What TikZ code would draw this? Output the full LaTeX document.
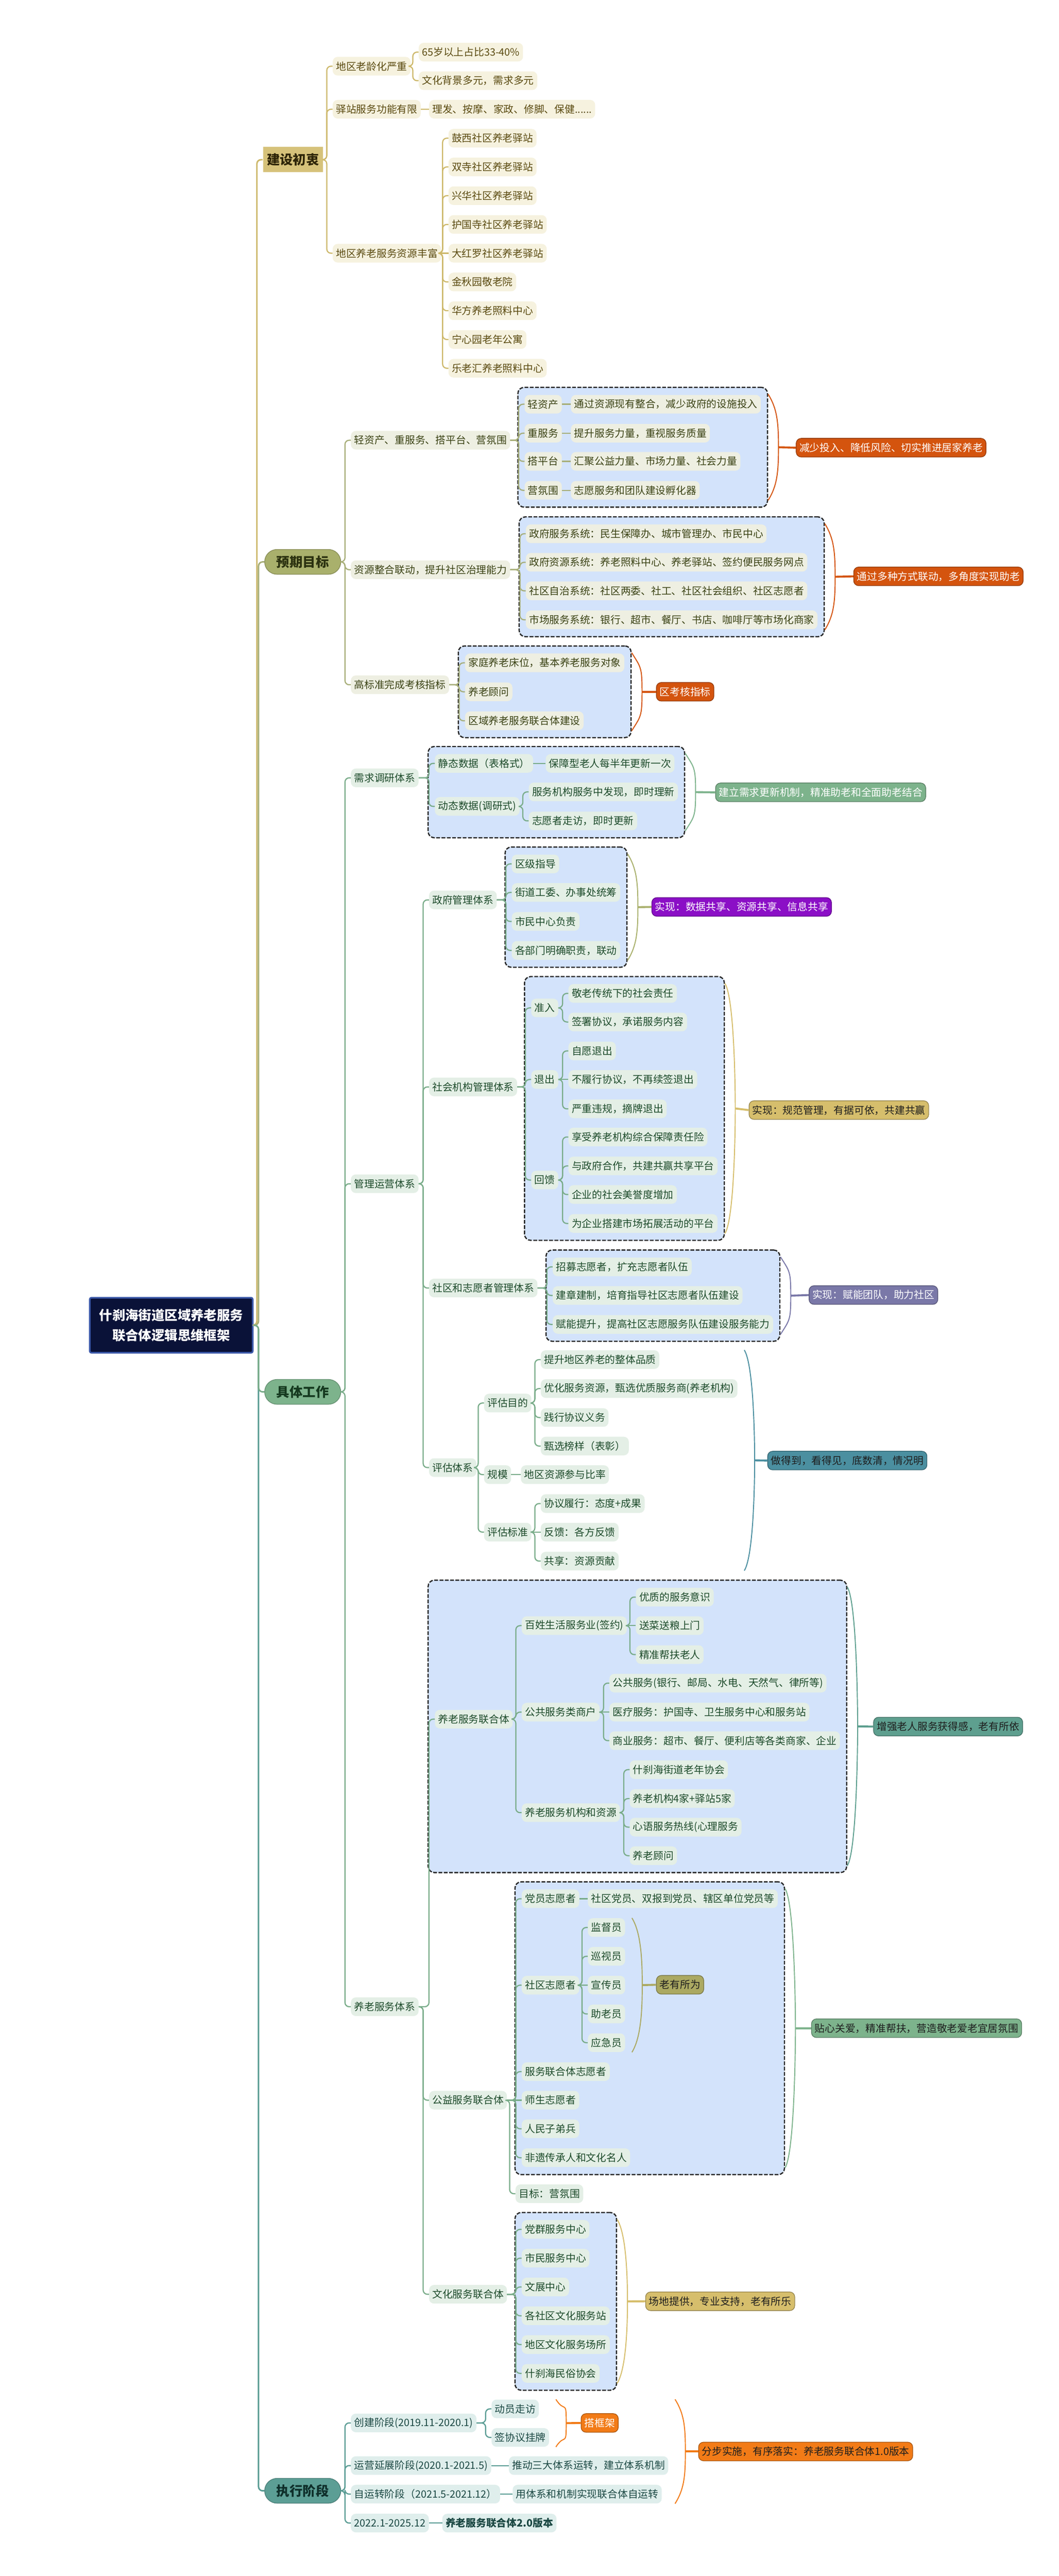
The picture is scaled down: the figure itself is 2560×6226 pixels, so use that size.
\documentclass[tikz,border=0pt]{standalone}
\usepackage{fontspec}
\setmainfont{Noto Sans CJK SC}
\usetikzlibrary{fit,backgrounds,calc}

\definecolor{cxmain}{HTML}{D6C27A}
\definecolor{cxbg}{HTML}{F6F2DF}
\definecolor{cxln}{HTML}{CDB86A}
\definecolor{cxtx}{HTML}{5A4A10}
\definecolor{cxdark}{HTML}{2E2508}
\definecolor{mbmain}{HTML}{A9B06C}
\definecolor{mbbg}{HTML}{EEEFE2}
\definecolor{mbln}{HTML}{A7AE78}
\definecolor{mbtx}{HTML}{3A4214}
\definecolor{mbdark}{HTML}{2C3210}
\definecolor{gzmain}{HTML}{7DB38C}
\definecolor{gzbg}{HTML}{E4EFE6}
\definecolor{gzln}{HTML}{79AC89}
\definecolor{gztx}{HTML}{1C4A2A}
\definecolor{gzdark}{HTML}{15391F}
\definecolor{jdmain}{HTML}{5C9E95}
\definecolor{jdbg}{HTML}{DFEEEC}
\definecolor{jdln}{HTML}{5A9C94}
\definecolor{jdtx}{HTML}{1B4843}
\definecolor{jddark}{HTML}{0F2F2B}
\definecolor{rootbg}{HTML}{0A1238}
\definecolor{rootln}{HTML}{3A57A8}
\definecolor{boxbg}{HTML}{D3E3FB}
\definecolor{orangeA}{HTML}{D4540E}
\definecolor{orangeB}{HTML}{F27B17}
\definecolor{purpleA}{HTML}{8B0FC6}
\definecolor{violetB}{HTML}{7A78A8}
\definecolor{tealA}{HTML}{4B8FA0}
\definecolor{tealB}{HTML}{5E9F8F}
\definecolor{goldB}{HTML}{D6BE6C}
\definecolor{oliveB}{HTML}{ABA962}
\definecolor{darktx}{HTML}{1E1E1E}

\tikzset{
  leaf/.style={anchor=west, rounded corners=3mm, minimum height=11.25mm,
    inner xsep=2mm, inner ysep=0pt, font=\fontsize{17.5}{21}\selectfont},
  cxleaf/.style={leaf, fill=cxbg, text=cxtx},
  mbleaf/.style={leaf, fill=mbbg, text=mbtx},
  gzleaf/.style={leaf, fill=gzbg, text=gztx},
  jdleaf/.style={leaf, fill=jdbg, text=jdtx},
  branch/.style={anchor=west, minimum width=46mm, minimum height=15mm,
    rounded corners=7.5mm, line width=0.4mm, font=\fontsize{22.5}{26}\selectfont\bfseries},
  root/.style={anchor=west, fill=rootbg, draw=rootln, line width=1mm, text=white,
    align=center, minimum width=98.5mm, minimum height=33.25mm, rounded corners=1mm,
    font=\fontsize{22.5}{34}\selectfont\bfseries},
  callout/.style={leaf, draw=#1!70!black, line width=0.4mm, fill=#1},
  sumbox/.style={draw=black!85, dash pattern=on 2.3mm off 0.9mm, line width=0.75mm,
    fill=boxbg, rounded corners=3.75mm, inner xsep=4mm, inner ysep=4.5mm},
  grp/.style={inner xsep=4mm, inner ysep=4.5mm},
  link/.style={line width=0.7mm, rounded corners=2.5mm,
    to path={(\tikztostart.east) -| ([xshift=-3.5mm]\tikztotarget.west) -- (\tikztotarget.west)}},
  wire/.style={line width=0.7mm},
  bracket/.style={line width=0.6mm},
  stub/.style={line width=1.2mm}
}

\newcommand{\sumbrace}[3]{%
  \draw[bracket, #1] ($(#2.north east)+(0,18)$) .. controls +(22,35) and +(0,-60) .. ($(#2.east)+(25,0)$)
    .. controls +(0,60) and +(22,-35) .. ($(#2.south east)+(0,-18)$);
  \draw[stub, #1] ($(#2.east)+(25,0)$) -- (#3.west);}

\begin{document}
\begin{tikzpicture}[x=0.25mm, y=-0.25mm]
        \begin{scope}[on background layer]
            \fill[white] (0,0) rectangle (2560,6226);
        \end{scope}
        \useasboundingbox (0,0) rectangle (2560,6226);

        %%%%%%%%% Radice %%%%%%%%%
        \node[root] (root) at (215,3203) {什刹海街道区域养老服务\\联合体逻辑思维框架};

        \node[branch, fill=cxmain, text=cxdark, rounded corners=0pt, minimum width=36.25mm, minimum height=15.25mm] (cx) at (635,386) {建设初衷};
        \node[branch, fill=mbmain, draw=mbmain!80!black, text=mbdark] (mb) at (639,1358) {预期目标};
        \node[branch, fill=gzmain, draw=gzmain!80!black, text=gzdark] (gz) at (639,3364) {具体工作};
        \node[branch, fill=jdmain, draw=jdmain!80!black, text=jddark] (jd) at (639,6020) {执行阶段};

        %%%%%%%%% 建设初衷 %%%%%%%%%
        \node[cxleaf] (a1) at (804,160) {地区老龄化严重};
        \node[cxleaf] (a11) at (1012,126) {65岁以上占比33-40\%};
        \node[cxleaf] (a12) at (1012,195) {文化背景多元，需求多元};
        \node[cxleaf] (a2) at (804,264) {驿站服务功能有限};
        \node[cxleaf] (a21) at (1037,264) {理发、按摩、家政、修脚、保健......};
        \node[cxleaf] (a3) at (804,612) {地区养老服务资源丰富};
        \foreach \lbl [count=\i] in {鼓西社区养老驿站,双寺社区养老驿站,兴华社区养老驿站,护国寺社区养老驿站,大红罗社区养老驿站,金秋园敬老院,华方养老照料中心,宁心园老年公寓,乐老汇养老照料中心}
            \node[cxleaf] (a3\i) at (1084,{264.5+69.5*\i}) {\lbl};

        %%%%%%%%% 预期目标 %%%%%%%%%
        \node[mbleaf] (b1) at (848,1064) {轻资产、重服务、搭平台、营氛围};
        \node[mbleaf] (b11) at (1268,977) {轻资产};
        \node[mbleaf] (b11t) at (1380,977) {通过资源现有整合，减少政府的设施投入};
        \node[mbleaf] (b12) at (1268,1047) {重服务};
        \node[mbleaf] (b12t) at (1380,1047) {提升服务力量，重视服务质量};
        \node[mbleaf] (b13) at (1268,1115) {搭平台};
        \node[mbleaf] (b13t) at (1380,1115) {汇聚公益力量、市场力量、社会力量};
        \node[mbleaf] (b14) at (1268,1185) {营氛围};
        \node[mbleaf] (b14t) at (1380,1185) {志愿服务和团队建设孵化器};

        \node[mbleaf] (b2) at (848,1377) {资源整合联动，提升社区治理能力};
        \node[mbleaf] (b21) at (1271,1290) {政府服务系统：民生保障办、城市管理办、市民中心};
        \node[mbleaf] (b22) at (1271,1359) {政府资源系统：养老照料中心、养老驿站、签约便民服务网点};
        \node[mbleaf] (b23) at (1271,1428) {社区自治系统：社区两委、社工、社区社会组织、社区志愿者};
        \node[mbleaf] (b24) at (1271,1498) {市场服务系统：银行、超市、餐厅、书店、咖啡厅等市场化商家};

        \node[mbleaf] (b3) at (848,1655) {高标准完成考核指标};
        \node[mbleaf] (b31) at (1124,1602) {家庭养老床位，基本养老服务对象};
        \node[mbleaf] (b32) at (1124,1672) {养老顾问};
        \node[mbleaf] (b33) at (1124,1742) {区域养老服务联合体建设};

        \node[callout=orangeA, text=white] (c1) at (1924,1082) {减少投入、降低风险、切实推进居家养老};
        \node[callout=orangeA, text=white] (c2) at (2063,1393) {通过多种方式联动，多角度实现助老};
        \node[callout=orangeA, text=white] (c3) at (1586,1672) {区考核指标};

        %%%%%%%%% 具体工作: 需求调研 %%%%%%%%%
        \node[gzleaf] (d1) at (848,1880) {需求调研体系};
        \node[gzleaf] (d11) at (1051,1845) {静态数据（表格式）};
        \node[gzleaf] (d11t) at (1319,1845) {保障型老人每半年更新一次};
        \node[gzleaf] (d12) at (1051,1949) {动态数据(调研式)};
        \node[gzleaf] (d121) at (1278,1914) {服务机构服务中发现，即时理新};
        \node[gzleaf] (d122) at (1278,1984) {志愿者走访，即时更新};
        \node[callout=gzmain, text=white] (c4) at (1729,1915) {建立需求更新机制，精准助老和全面助老结合};

        %%%%%%%%% 具体工作: 管理运营 %%%%%%%%%
        \node[gzleaf] (d2) at (848,2861) {管理运营体系};
        \node[gzleaf] (d21) at (1037,2175) {政府管理体系};
        \node[gzleaf] (d211) at (1237,2088) {区级指导};
        \node[gzleaf] (d212) at (1237,2157) {街道工委、办事处统筹};
        \node[gzleaf] (d213) at (1237,2227) {市民中心负责};
        \node[gzleaf] (d214) at (1237,2297) {各部门明确职责，联动};
        \node[callout=purpleA, text=white] (c5) at (1575,2192) {实现：数据共享、资源共享、信息共享};

        \node[gzleaf] (d22) at (1037,2627) {社会机构管理体系};
        \node[gzleaf] (d221) at (1284,2436) {准入};
        \node[gzleaf] (d221a) at (1374,2401) {敬老传统下的社会责任};
        \node[gzleaf] (d221b) at (1374,2470) {签署协议，承诺服务内容};
        \node[gzleaf] (d222) at (1284,2609) {退出};
        \node[gzleaf] (d222a) at (1374,2540) {自愿退出};
        \node[gzleaf] (d222b) at (1374,2609) {不履行协议，不再续签退出};
        \node[gzleaf] (d222c) at (1374,2680) {严重违规，摘牌退出};
        \node[gzleaf] (d223) at (1284,2852) {回馈};
        \node[gzleaf] (d223a) at (1374,2748) {享受养老机构综合保障责任险};
        \node[gzleaf] (d223b) at (1374,2818) {与政府合作，共建共赢共享平台};
        \node[gzleaf] (d223c) at (1374,2887) {企业的社会美誉度增加};
        \node[gzleaf] (d223d) at (1374,2957) {为企业搭建市场拓展活动的平台};
        \node[callout=goldB, text=darktx] (c6) at (1810,2683) {实现：规范管理，有据可依，共建共赢};

        \node[gzleaf] (d23) at (1037,3113) {社区和志愿者管理体系};
        \node[gzleaf] (d231) at (1336,3062) {招募志愿者，扩充志愿者队伍};
        \node[gzleaf] (d232) at (1336,3131) {建章建制，培育指导社区志愿者队伍建设};
        \node[gzleaf] (d233) at (1336,3201) {赋能提升，提高社区志愿服务队伍建设服务能力};
        \node[callout=violetB, text=white] (c7) at (1955,3130) {实现：赋能团队，助力社区};

        \node[gzleaf] (d24) at (1037,3547) {评估体系};
        \node[gzleaf] (d241) at (1170,3391) {评估目的};
        \node[gzleaf] (d241a) at (1307,3286) {提升地区养老的整体品质};
        \node[gzleaf] (d241b) at (1307,3356) {优化服务资源，甄选优质服务商(养老机构)};
        \node[gzleaf] (d241c) at (1307,3426) {践行协议义务};
        \node[gzleaf] (d241d) at (1307,3495) {甄选榜样（表彰）};
        \node[gzleaf] (d242) at (1170,3564) {规模};
        \node[gzleaf] (d242a) at (1259,3564) {地区资源参与比率};
        \node[gzleaf] (d243) at (1170,3703) {评估标准};
        \node[gzleaf] (d243a) at (1307,3634) {协议履行：态度+成果};
        \node[gzleaf] (d243b) at (1307,3703) {反馈：各方反馈};
        \node[gzleaf] (d243c) at (1307,3773) {共享：资源贡献};
        \node[callout=tealA, text=darktx] (c8) at (1855,3530) {做得到，看得见，底数清，情况明};

        %%%%%%%%% 具体工作: 养老服务 %%%%%%%%%
        \node[gzleaf] (d3) at (848,4850) {养老服务体系};
        \node[gzleaf] (d31) at (1051,4155) {养老服务联合体};
        \node[gzleaf] (d311) at (1261,3929) {百姓生活服务业(签约)};
        \node[gzleaf] (d311a) at (1537,3860) {优质的服务意识};
        \node[gzleaf] (d311b) at (1537,3929) {送菜送粮上门};
        \node[gzleaf] (d311c) at (1537,3999) {精准帮扶老人};
        \node[gzleaf] (d312) at (1261,4138) {公共服务类商户};
        \node[gzleaf] (d312a) at (1473,4068) {公共服务(银行、邮局、水电、天然气、律所等)};
        \node[gzleaf] (d312b) at (1473,4138) {医疗服务：护国寺、卫生服务中心和服务站};
        \node[gzleaf] (d312c) at (1473,4207) {商业服务：超市、餐厅、便利店等各类商家、企业};
        \node[gzleaf] (d313) at (1261,4381) {养老服务机构和资源};
        \node[gzleaf] (d313a) at (1522,4277) {什刹海街道老年协会};
        \node[gzleaf] (d313b) at (1522,4347) {养老机构4家+驿站5家};
        \node[gzleaf] (d313c) at (1522,4416) {心语服务热线(心理服务};
        \node[gzleaf] (d313d) at (1522,4485) {养老顾问};
        \node[callout=tealB, text=darktx] (c9) at (2111,4173) {增强老人服务获得感，老有所依};

        \node[gzleaf] (d32) at (1037,5076) {公益服务联合体};
        \node[gzleaf] (d321) at (1261,4589) {党员志愿者};
        \node[gzleaf] (d321a) at (1421,4589) {社区党员、双报到党员、辖区单位党员等};
        \node[gzleaf] (d322) at (1261,4798) {社区志愿者};
        \foreach \lbl [count=\i] in {监督员,巡视员,宣传员,助老员,应急员}
            \node[gzleaf] (d322\i) at (1421,{4589+69.6*\i}) {\lbl};
        \node[callout=oliveB, text=darktx] (c10) at (1586,4797) {老有所为};
        \node[gzleaf] (d323) at (1261,5007) {服务联合体志愿者};
        \node[gzleaf] (d324) at (1261,5076) {师生志愿者};
        \node[gzleaf] (d325) at (1261,5145) {人民子弟兵};
        \node[gzleaf] (d326) at (1261,5215) {非遗传承人和文化名人};
        \node[gzleaf] (d327) at (1246,5302) {目标：营氛围};
        \node[callout=gzmain, text=darktx] (c11) at (1961,4902) {贴心关爱，精准帮扶，营造敬老爱老宜居氛围};

        \node[gzleaf] (d33) at (1037,5545) {文化服务联合体};
        \foreach \lbl [count=\i] in {党群服务中心,市民服务中心,文展中心,各社区文化服务站,地区文化服务场所,什刹海民俗协会}
            \node[gzleaf] (d33\i) at (1261,{5318.6+69.6*\i}) {\lbl};
        \node[callout=goldB, text=darktx] (c12) at (1560,5562) {场地提供，专业支持，老有所乐};

        %%%%%%%%% 执行阶段 %%%%%%%%%
        \node[jdleaf] (e1) at (848,5856) {创建阶段(2019.11-2020.1)};
        \node[jdleaf] (e1a) at (1188,5822) {动员走访};
        \node[jdleaf] (e1b) at (1188,5891) {签协议挂牌};
        \node[callout=orangeB, text=white] (c13) at (1404,5856) {搭框架};
        \node[jdleaf] (e2) at (848,5959) {运营延展阶段(2020.1-2021.5)};
        \node[jdleaf] (e2a) at (1230,5959) {推动三大体系运转，建立体系机制};
        \node[jdleaf] (e3) at (848,6028) {自运转阶段（2021.5-2021.12）};
        \node[jdleaf] (e3a) at (1239,6028) {用体系和机制实现联合体自运转};
        \node[jdleaf] (e4) at (848,6098) {2022.1-2025.12};
        \node[jdleaf, font=\fontsize{17.5}{21}\selectfont\bfseries] (e4a) at (1069,6098) {养老服务联合体2.0版本};
        \node[callout=orangeB, text=darktx] (c14) at (1688,5925) {分步实施，有序落实：养老服务联合体1.0版本};

        %%%%%%%%% Riquadri %%%%%%%%%
        \begin{scope}[on background layer]
            \node[sumbox, fit=(b11)(b11t)(b12t)(b13t)(b14)(b14t)] (bx1) {};
            \node[sumbox, fit=(b21)(b22)(b23)(b24)] (bx2) {};
            \node[sumbox, fit=(b31)(b32)(b33)] (bx3) {};
            \node[sumbox, fit=(d11)(d11t)(d12)(d121)(d122)] (bx4) {};
            \node[sumbox, fit=(d211)(d212)(d213)(d214)] (bx5) {};
            \node[sumbox, fit=(d221)(d221a)(d221b)(d222a)(d222b)(d222c)(d223a)(d223b)(d223c)(d223d)] (bx6) {};
            \node[sumbox, fit=(d231)(d232)(d233)] (bx7) {};
            \node[sumbox, fit=(d31)(d311a)(d312a)(d312c)(d313a)(d313d)] (bx8) {};
            \node[sumbox, fit=(d321)(d321a)(d3221)(d3225)(c10)(d326)] (bx9) {};
            \node[sumbox, fit=(d331)(d332)(d333)(d334)(d335)(d336)] (bx10) {};
        \end{scope}
        \node[grp, fit=(d241a)(d241b)(d241c)(d241d)(d242a)(d243a)(d243b)(d243c)] (gp1) {};
        \node[grp, fit=(d3221)(d3222)(d3223)(d3224)(d3225)] (gp2) {};
        \node[grp, fit=(e1a)(e1b)] (gp3) {};
        \node[grp, fit=(e1)(e1a)(e1b)(e2)(e2a)(e3)(e3a)] (gp4) {};

        %%%%%%%%% Linee %%%%%%%%%
        \draw[link, cxln, line width=0.9mm] (root) to (cx);
        \draw[link, mbln, line width=0.9mm] (root) to (mb);
        \draw[link, jdln, line width=0.9mm] (root) to (jd);
        \draw[link, gzln, line width=0.9mm] (root) to (gz);

        \foreach \n in {a1,a2,a3} \draw[link, cxln] (cx) to (\n);
        \draw[link, cxln] (a1) to (a11);
        \draw[link, cxln] (a1) to (a12);
        \draw[wire, cxln] (a2) -- (a21);
        \foreach \i in {1,2,3,4,6,7,8,9} \draw[link, cxln] (a3) to (a3\i);
        \draw[wire, cxln] (a3) -- (a35);

        \foreach \n in {b1,b2,b3} \draw[link, mbln] (mb) to (\n);
        \foreach \i in {1,2,3,4} {
            \draw[link, mbln] (b1) to (b1\i);
            \draw[wire, mbln] (b1\i) -- (b1\i t);
            \draw[link, mbln] (b2) to (b2\i);
        }
        \foreach \i in {1,2,3} \draw[link, mbln] (b3) to (b3\i);

        \foreach \n in {d1,d2,d3} \draw[link, gzln] (gz) to (\n);
        \draw[link, gzln] (d1) to (d11);
        \draw[link, gzln] (d1) to (d12);
        \draw[wire, gzln] (d11) -- (d11t);
        \draw[link, gzln] (d12) to (d121);
        \draw[link, gzln] (d12) to (d122);

        \foreach \n in {d21,d22,d23,d24} \draw[link, gzln] (d2) to (\n);
        \foreach \i in {1,2,3,4} \draw[link, gzln] (d21) to (d21\i);
        \foreach \n in {d221,d222,d223} \draw[link, gzln] (d22) to (\n);
        \draw[link, gzln] (d221) to (d221a);
        \draw[link, gzln] (d221) to (d221b);
        \draw[link, gzln] (d222) to (d222a);
        \draw[wire, gzln] (d222) -- (d222b);
        \draw[link, gzln] (d222) to (d222c);
        \foreach \n in {a,b,c,d} \draw[link, gzln] (d223) to (d223\n);
        \foreach \i in {1,2,3} \draw[link, gzln] (d23) to (d23\i);
        \foreach \n in {d241,d242,d243} \draw[link, gzln] (d24) to (\n);
        \foreach \n in {a,b,c,d} \draw[link, gzln] (d241) to (d241\n);
        \draw[wire, gzln] (d242) -- (d242a);
        \draw[link, gzln] (d243) to (d243a);
        \draw[wire, gzln] (d243) -- (d243b);
        \draw[link, gzln] (d243) to (d243c);

        \foreach \n in {d31,d32,d33} \draw[link, gzln] (d3) to (\n);
        \foreach \n in {d311,d312,d313} \draw[link, gzln] (d31) to (\n);
        \draw[link, gzln] (d311) to (d311a);
        \draw[wire, gzln] (d311) -- (d311b);
        \draw[link, gzln] (d311) to (d311c);
        \draw[link, gzln] (d312) to (d312a);
        \draw[wire, gzln] (d312) -- (d312b);
        \draw[link, gzln] (d312) to (d312c);
        \foreach \n in {a,b,c,d} \draw[link, gzln] (d313) to (d313\n);
        \foreach \n in {d321,d322,d323,d325,d326,d327} \draw[link, gzln] (d32) to (\n);
        \draw[wire, gzln] (d32) -- (d324);
        \draw[wire, gzln] (d321) -- (d321a);
        \foreach \i in {1,2,4,5} \draw[link, gzln] (d322) to (d322\i);
        \draw[wire, gzln] (d322) -- (d3223);
        \foreach \i in {1,...,6} \draw[link, gzln] (d33) to (d33\i);

        \foreach \n in {e1,e2,e3,e4} \draw[link, jdln] (jd) to (\n);
        \draw[link, jdln] (e1) to (e1a);
        \draw[link, jdln] (e1) to (e1b);
        \draw[wire, jdln] (e2) -- (e2a);
        \draw[wire, jdln] (e3) -- (e3a);
        \draw[wire, jdln] (e4) -- (e4a);

        %%%%%%%%% Parentesi %%%%%%%%%
        \sumbrace{orangeA}{bx1}{c1}
        \sumbrace{orangeA}{bx2}{c2}
        \sumbrace{orangeA}{bx3}{c3}
        \sumbrace{gzmain}{bx4}{c4}
        \sumbrace{mbmain}{bx5}{c5}
        \sumbrace{goldB}{bx6}{c6}
        \sumbrace{violetB}{bx7}{c7}
        \sumbrace{tealA}{gp1}{c8}
        \sumbrace{tealB}{bx8}{c9}
        \sumbrace{oliveB}{gp2}{c10}
        \sumbrace{gzmain}{bx9}{c11}
        \sumbrace{goldB}{bx10}{c12}
        \sumbrace{orangeB}{gp3}{c13}
        \sumbrace{orangeB}{gp4}{c14}
    \end{tikzpicture}
\end{document}
